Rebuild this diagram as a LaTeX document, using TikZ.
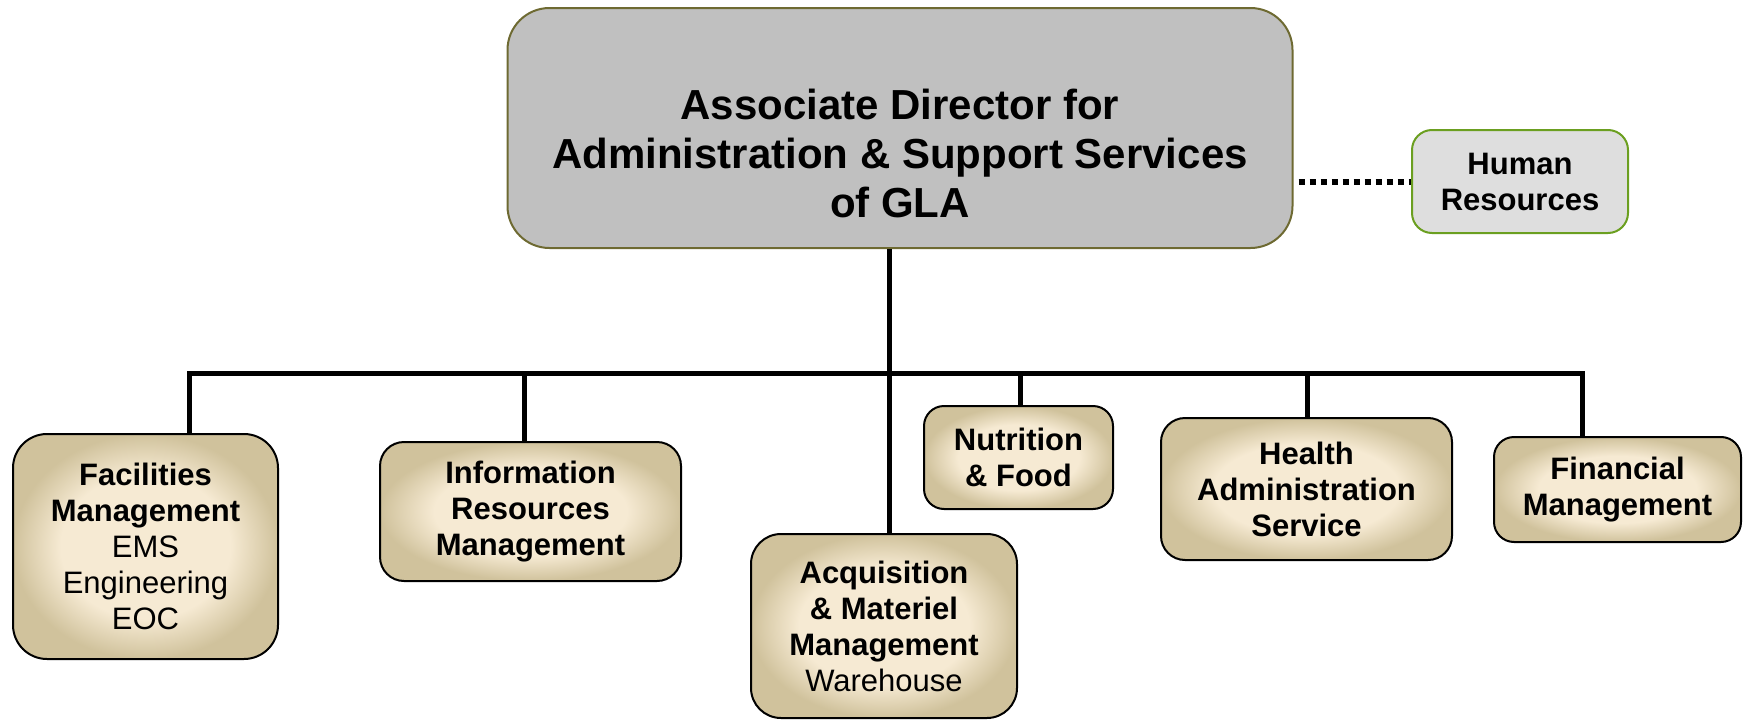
\documentclass[tikz,border=0pt]{standalone}
\usepackage{fontspec}
\setmainfont{Liberation Sans}
\usetikzlibrary{positioning, calc}

\definecolor{cream}{HTML}{F6EAD3}
\definecolor{tan}{HTML}{D0C29C}
\definecolor{olive}{HTML}{6E6A32}
\definecolor{hrgreen}{HTML}{6B9F20}
\definecolor{hrgray}{HTML}{DEDEDE}
\definecolor{adgray}{HTML}{C0C0C0}
\pgfdeclareradialshading{unitglow}{\pgfpoint{0bp}{0bp}}{color(0bp)=(cream); color(16bp)=(cream); color(25bp)=(tan); color(50bp)=(tan)}

\begin{document}
\begin{tikzpicture}[x=1pt, y=-1pt,
    topbox/.style={draw=olive, line width=2pt, fill=adgray, rounded corners=42pt, inner sep=0pt},
    toptext/.style={align=center, font=\fontsize{42}{49}\selectfont\bfseries},
    hrbox/.style={draw=hrgreen, line width=2pt, fill=hrgray, rounded corners=20pt, inner sep=0pt, align=center, font=\fontsize{31}{36}\selectfont\bfseries},
    unit/.style={draw=black, line width=2pt, shading=unitglow, rounded corners=24pt, inner sep=0pt, align=center, font=\fontsize{31}{36}\selectfont\bfseries},
    link/.style={line width=5pt, line join=miter},
    dotline/.style={line width=6pt, dash pattern=on 6pt off 5pt}]
                        \useasboundingbox (0,0) rectangle (1746,720);
                        \node[topbox, minimum width=785pt, minimum height=240pt] (ad) at (900,128) {};
                        \node[toptext] (adtext) at (900,153) {Associate Director for\\Administration \& Support Services\\of GLA};
                        \node[hrbox, minimum width=216pt, minimum height=103pt] (hr) at (1520,181.5) {Human\\Resources};
                        \node[unit, rounded corners=34pt, minimum width=265pt, minimum height=225pt] (fac) at (145.5,546.5) {Facilities\\Management\\\textmd{EMS}\\\textmd{Engineering}\\\textmd{EOC}};
                        \node[unit, minimum width=301pt, minimum height=139pt] (irm) at (530.5,511.5) {Information\\Resources\\Management};
                        \node[unit, rounded corners=30pt, minimum width=266pt, minimum height=184pt] (acq) at (884,626) {Acquisition\\\& Materiel\\Management\\\textmd{Warehouse}};
                        \node[unit, rounded corners=20pt, minimum width=189pt, minimum height=103pt] (nut) at (1018.5,457.5) {Nutrition\\\& Food};
                        \node[unit, minimum width=291pt, minimum height=142pt] (has) at (1306.5,489) {Health\\Administration\\Service};
                        \node[unit, rounded corners=20pt, minimum width=247pt, minimum height=105pt] (fin) at (1617.5,489.5) {Financial\\Management};
                        \coordinate (b1) at (189,373);
                        \coordinate (b2) at (524,373);
                        \coordinate (b3) at (889,373);
                        \coordinate (b4) at (1020,373);
                        \coordinate (b5) at (1307,373);
                        \coordinate (b6) at (1582,373);
                        \draw[link] (b1 |- fac.north) -- (b1) -- (b6) -- (b6 |- fin.north);
                        \draw[link] (ad.south -| b3) -- (b3 |- acq.north);
                        \draw[link] (b2) -- (b2 |- irm.north);
                        \draw[link] (b4) -- (b4 |- nut.north);
                        \draw[link] (b5) -- (b5 |- has.north);
                        \draw[dotline] ([xshift=5pt]ad.east |- hr.west) -- (hr.west);
                    \end{tikzpicture}
\end{document}
